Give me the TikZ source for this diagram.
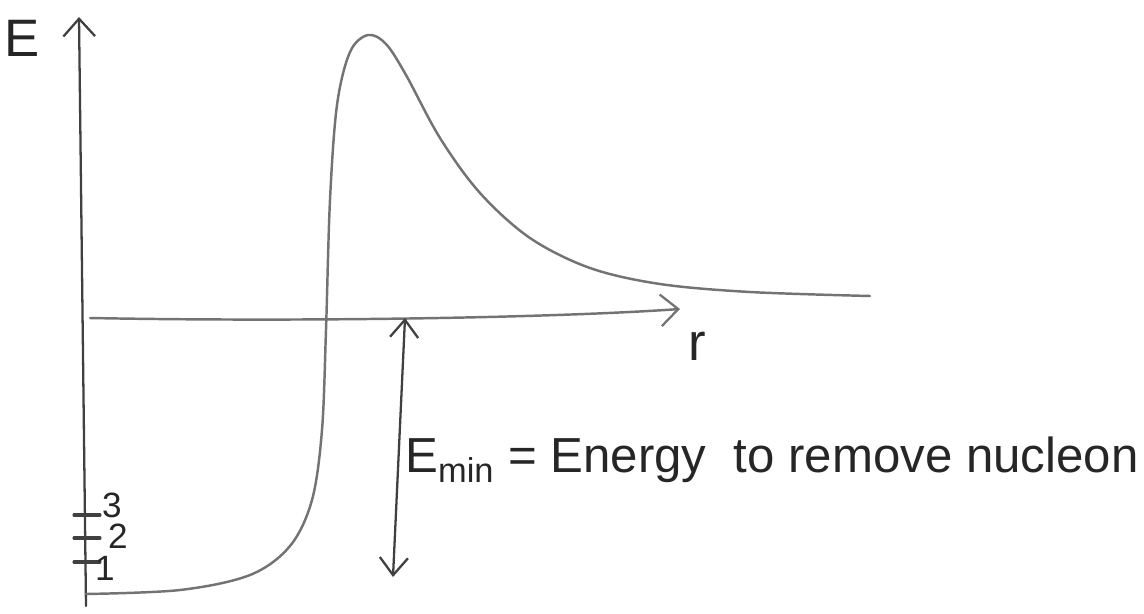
\documentclass[tikz,border=0pt]{standalone}
\usepackage{fontspec}
\setmainfont{Liberation Sans}
\usetikzlibrary{arrows.meta}
\tikzset{
  pencil/.style={line width=1.3pt, line cap=round, black!75},
  soft/.style={line width=1.4pt, line cap=round, black!55},
  barb/.style={-{Straight Barb[length=10pt,width=18pt,line width=1.3pt]}},
  label/.style={inner sep=0pt, black!85}
}
\begin{document}
\begin{tikzpicture}[x=0.02cm,y=-0.02cm]
\useasboundingbox (0,0) rectangle (1144,613);
\def\yR{318};
\coordinate (Ebot) at (86,606);
\coordinate (Etop) at (79,17);
\coordinate (O) at (90,\yR);
\coordinate (rtip) at (680,309);
\coordinate (gaptop) at (405,318);
\coordinate (gapbot) at (393,577);
% axes
\draw[pencil,barb] (Ebot) -- (Etop);
\node[label,font=\fontsize{30}{32}\selectfont] (Elab) at (22,38) {E};
\draw[soft,barb] (O) .. controls (300,322) and (550,318) .. (rtip);
\node[label,font=\fontsize{30}{32}\selectfont] (rlab) at (697,346) {r};
% potential
\draw[soft] plot[smooth,tension=0.55] coordinates {(86,594) (180,590) (250,575) (290,546) (312,500) (322,430) (326,330) (330,200) (337,105) (350,52) (368,35) (386,44) (406,75) (440,138) (480,193) (530,238) (590,268) (660,284) (750,292) (870,296)};
% levels
\foreach \y/\n/\dx/\dy in {515/3/38/-10, 538/2/44/-2, 562/1/31/6}
  \draw[pencil,line width=1.8pt] (74,\y) -- (100,\y) node[label,font=\fontsize{20}{22}\selectfont] (lev\n) at (74+\dx,\y+\dy) {\n};
% binding energy
\draw[pencil,{Straight Barb[length=10pt,width=16pt,line width=1.3pt]}-{Straight Barb[length=10pt,width=16pt,line width=1.3pt]}] (gaptop) -- (gapbot);
\node[label,anchor=west,font=\fontsize{28}{30}\selectfont] (Emin) at (405,460) {E\textsubscript{min} = Energy\ \ to remove nucleon};
\end{tikzpicture}
\end{document}
